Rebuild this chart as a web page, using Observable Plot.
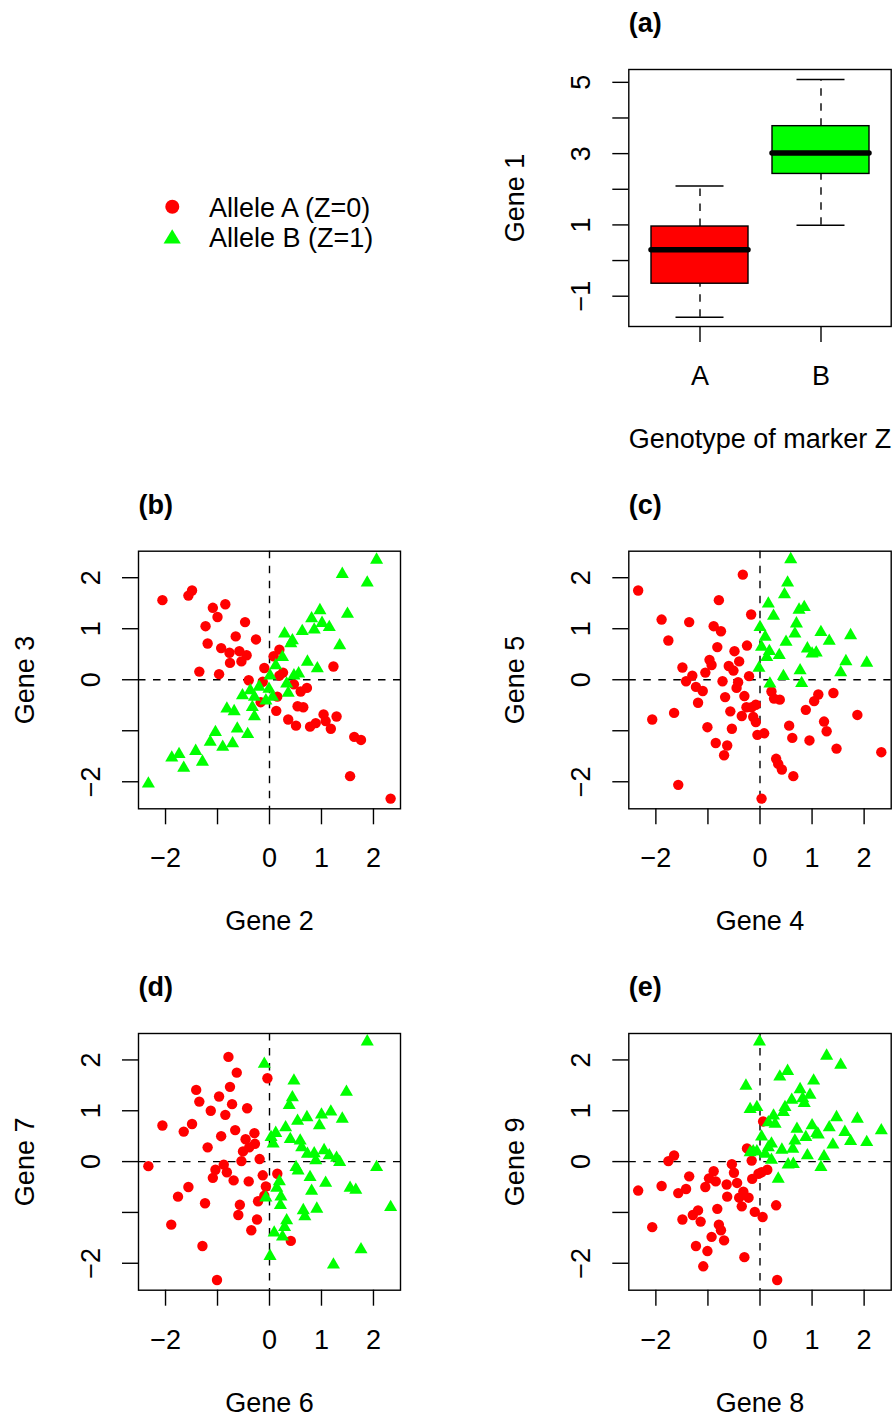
<!DOCTYPE html>
<html><head><meta charset="utf-8">
<script src="https://cdn.jsdelivr.net/npm/d3@7"></script>
<script src="https://cdn.jsdelivr.net/npm/@observablehq/plot@0.6"></script>
<style>
html,body{margin:0;padding:0;background:#fff;overflow:hidden;}
#root{position:relative;width:894px;height:1418px;font-family:"Liberation Sans",Arimo,Helvetica,Arial,sans-serif;}
.panel{position:absolute;}
</style></head><body><div id="root"></div>
<script>
// ---------- data ----------
const groups = ["A", "B"];
const boxLow = [-1.59, 0.99];
const boxQ1 = [-0.65, 2.43];
const boxMed = [0.30, 3.02];
const boxQ3 = [0.955, 3.77];
const boxHigh = [2.09, 5.08];
const boxFill = ["#ff0000", "#00ff00"];

const legendLabels = ["Allele A (Z=0)", "Allele B (Z=1)"];

const scatterTicks = [-2, -1, 0, 1, 2];
const gene1Ticks = [-1, 0, 1, 2, 3, 4, 5];

// panel (b): Gene 2 (x) vs Gene 3 (y)
const b_A = [[-2.06,1.56],[-1.56,1.65],[-1.49,1.75],[-1.09,1.41],[-0.85,1.48],[-1.0,1.23],[-1.23,1.05],[-0.47,1.13],[-0.65,0.85],[-0.26,0.79],[-1.19,0.71],[-0.93,0.62],[-0.77,0.53],[-0.58,0.56],[-0.44,0.48],[-0.54,0.36],[-0.76,0.33],[-1.35,0.16],[-0.97,0.11],[-0.40,-0.01],[-0.10,0.23],[0.19,0.59],[0.08,0.46],[0.26,0.14],[0.19,0.08],[-0.13,-0.04],[-0.17,-0.44],[0.15,-0.33],[0.13,-0.61],[0.47,-0.09],[0.60,-0.23],[0.72,-0.16],[0.54,-0.52],[0.65,-0.54],[0.36,-0.78],[0.51,-0.90],[0.78,-0.92],[0.89,-0.85],[1.04,-0.68],[1.08,-0.81],[1.18,-0.96],[1.29,-0.72],[1.23,0.26],[1.63,-1.12],[1.76,-1.18],[1.55,-1.89],[2.33,-2.33]];
const b_B = [[-2.33,-2.04],[-1.88,-1.53],[-1.74,-1.46],[-1.65,-1.73],[-1.42,-1.40],[-1.29,-1.61],[-1.14,-1.22],[-1.04,-1.03],[-0.90,-1.32],[-0.71,-1.25],[-0.62,-0.96],[-0.42,-1.07],[-0.82,-0.57],[-0.68,-0.62],[-0.29,-0.72],[-0.33,-0.54],[-0.52,-0.31],[-0.37,-0.21],[-0.20,-0.14],[-0.29,-0.34],[-0.07,-0.41],[-0.01,-0.18],[0.06,-0.34],[0.01,0.08],[0.12,0.28],[0.25,0.44],[0.33,-0.08],[0.36,-0.26],[0.47,0.08],[0.56,0.12],[0.29,0.90],[0.41,0.71],[0.44,0.77],[0.63,0.95],[0.73,0.35],[0.92,0.22],[0.86,0.98],[0.81,1.20],[0.97,1.36],[1.01,1.11],[1.15,1.03],[1.35,0.67],[1.50,1.29],[1.40,2.07],[1.88,1.90],[2.06,2.35]];

// panel (c): Gene 4 vs Gene 5
const c_A = [[-2.34,1.75],[-1.89,1.18],[-1.36,1.13],[-1.76,0.77],[-0.33,2.06],[-0.79,1.56],[-0.17,1.28],[-0.89,1.05],[-0.75,0.95],[-0.82,0.64],[-0.49,0.56],[-0.25,0.67],[-0.40,0.36],[-0.97,0.39],[-0.93,0.29],[-0.60,0.27],[-0.51,0.18],[-1.49,0.24],[-1.30,0.08],[-1.05,0.14],[-0.21,0.07],[-1.42,-0.03],[-0.72,-0.03],[-1.23,-0.14],[-1.10,-0.22],[-0.42,-0.05],[-0.45,-0.16],[-1.19,-0.45],[-0.67,-0.34],[-0.30,-0.32],[-0.26,-0.54],[-0.57,-0.62],[-0.35,-0.71],[-2.07,-0.78],[-1.65,-0.65],[-1.01,-0.93],[-0.54,-0.96],[-0.85,-1.24],[-0.63,-1.29],[-0.69,-1.48],[-1.57,-2.06],[0.22,-0.23],[0.27,-0.37],[0.38,-0.39],[-0.08,-0.49],[-0.16,-0.54],[-0.13,-0.73],[-0.08,-0.83],[-0.05,-1.08],[0.08,-1.05],[1.12,-0.29],[1.04,-0.42],[1.41,-0.26],[0.88,-0.59],[1.23,-0.82],[1.28,-1.01],[0.56,-0.90],[0.62,-1.14],[0.95,-1.19],[1.47,-1.35],[1.87,-0.69],[2.33,-1.42],[0.31,-1.55],[0.35,-1.65],[0.42,-1.76],[0.64,-1.89],[0.03,-2.33]];
const c_B = [[0.59,2.36],[0.53,1.90],[0.47,1.67],[0.16,1.49],[0.26,1.25],[0.75,1.37],[0.85,1.42],[0.70,1.10],[0.67,0.90],[0.0,1.03],[0.10,0.84],[0.50,0.74],[0.03,0.64],[0.18,0.56],[0.13,0.44],[0.37,0.48],[0.91,0.61],[1.0,0.51],[1.08,0.53],[1.17,0.93],[1.33,0.76],[1.74,0.87],[1.65,0.36],[2.05,0.33],[1.55,0.14],[0.77,0.18],[0.80,-0.07],[0.45,0.07],[-0.02,0.23],[0.19,-0.08]];

// panel (d): Gene 6 vs Gene 7
const d_A = [[-2.33,-0.09],[-2.06,0.71],[-1.65,0.59],[-1.49,0.74],[-1.41,1.41],[-1.35,1.18],[-1.13,1.0],[-0.97,1.28],[-0.79,2.06],[-0.76,1.47],[-0.63,1.75],[-0.72,1.13],[-0.85,0.92],[-0.43,1.05],[-0.66,0.62],[-0.93,0.50],[-1.19,0.28],[-0.46,0.44],[-0.29,0.56],[-0.28,0.35],[-0.39,0.28],[-0.51,0.20],[-0.54,0.01],[-0.19,0.05],[-0.88,-0.06],[-1.04,-0.16],[-0.82,-0.21],[-1.09,-0.32],[-0.69,-0.37],[-0.40,-0.39],[-1.56,-0.50],[-1.76,-0.69],[-1.24,-0.82],[-0.57,-0.85],[-0.60,-1.05],[-0.22,-0.78],[-0.24,-1.14],[-0.35,-1.35],[-1.89,-1.24],[-1.29,-1.66],[-1.01,-2.33],[-0.04,1.64],[-0.13,-0.27],[-0.07,-0.49],[-0.10,-0.67],[0.15,-0.24],[0.41,-1.56]];
const d_B = [[1.88,2.36],[1.48,1.37],[0.47,1.59],[0.44,1.26],[0.38,1.11],[0.54,0.80],[0.72,0.87],[1.0,0.92],[1.18,0.98],[1.40,0.84],[0.96,0.71],[0.31,0.67],[0.12,0.56],[0.03,0.48],[0.07,0.35],[0.40,0.44],[0.59,0.41],[0.62,0.28],[0.73,0.15],[0.86,0.16],[0.89,0.02],[1.05,0.22],[1.15,0.12],[1.29,0.07],[1.35,-0.01],[0.51,-0.11],[0.55,-0.18],[0.78,-0.31],[1.08,-0.42],[0.81,-0.58],[2.06,-0.11],[1.55,-0.52],[1.66,-0.56],[0.19,-0.39],[0.14,-0.52],[0.22,-0.69],[0.21,-0.86],[0.91,-0.93],[0.65,-0.96],[0.68,-1.08],[2.33,-0.90],[0.33,-1.16],[0.29,-1.29],[0.09,-1.40],[0.25,-1.48],[0.01,-1.86],[1.76,-1.73],[1.23,-2.03],[-0.10,1.92],[-0.07,-0.71]];

// panel (e): Gene 8 vs Gene 9
const e_A = [[-2.34,-0.57],[-2.07,-1.29],[-1.89,-0.48],[-1.76,0.01],[-1.65,0.12],[-1.57,-0.62],[-1.42,-0.54],[-1.36,-0.29],[-1.49,-1.14],[-1.29,-1.05],[-1.19,-0.96],[-1.14,-1.18],[-1.05,-0.50],[-0.98,-0.33],[-0.89,-0.19],[-0.85,-0.39],[-1.23,-1.66],[-1.01,-1.76],[-1.09,-2.06],[-0.93,-1.48],[-0.79,-1.24],[-0.75,-1.35],[-0.69,-1.55],[-0.82,-0.93],[-0.64,-0.45],[-0.63,-0.69],[-0.54,-0.05],[-0.50,-0.22],[-0.44,-0.42],[-0.32,-0.59],[-0.40,-0.71],[-0.22,-0.71],[-0.35,-0.88],[-0.15,-0.34],[-0.25,0.26],[-0.16,0.02],[-0.10,-0.99],[-0.30,-1.88],[-0.03,-0.24],[0.06,0.79],[0.03,-0.21],[0.14,-0.16],[0.05,-1.09],[0.31,-0.86],[0.33,-2.33]];
const e_B = [[-0.01,2.36],[1.28,2.08],[1.55,1.90],[0.53,1.78],[0.38,1.67],[1.03,1.59],[0.77,1.42],[0.96,1.31],[0.82,1.24],[0.61,1.21],[0.85,1.15],[0.48,1.07],[0.45,0.97],[-0.06,1.07],[0.26,0.90],[0.29,0.74],[0.16,0.77],[0.71,0.64],[1.0,0.71],[1.09,0.56],[1.12,0.53],[0.88,0.48],[1.33,0.67],[1.47,0.87],[1.87,0.84],[1.63,0.58],[1.74,0.40],[2.05,0.38],[2.33,0.61],[1.40,0.33],[0.67,0.41],[0.03,0.49],[0.22,0.35],[0.16,0.28],[0.42,0.23],[0.63,0.25],[-0.06,0.20],[-0.19,0.18],[0.10,0.15],[0.22,0.03],[0.91,0.12],[1.23,0.10],[1.17,-0.11],[0.54,-0.06],[0.64,-0.05],[0.35,-0.34],[-0.27,1.49],[-0.19,1.03],[-0.13,0.20]];

// ---------- styling / layout ----------
const RED = "#ff0000", GREEN = "#00ff00";
const FONT = '"Liberation Sans", Arimo, Helvetica, Arial, sans-serif';
const FS = 27;
const LW = 1.4;
const DASH = "7.5,7.5";
const W = 447, H = 454;
const COLS = [{left: 0, ml: 138, mr: 47}, {left: 447, ml: 181.3, mr: 3.3}];
const ROWS = [{top: 0, mt: 69, mb: 128}, {top: 482, mt: 68.7, mb: 127.7}, {top: 964, mt: 69, mb: 128.3}];
const fmt = d => d < 0 ? "\u2212" + Math.abs(d) : String(d);
const root = document.getElementById("root");

function place(node, left, top) {
  const div = document.createElement("div");
  div.className = "panel";
  div.style.left = left + "px";
  div.style.top = top + "px";
  div.appendChild(node);
  root.appendChild(div);
}

function decorations(tag, xl, yl) {
  return [
    Plot.text([xl], {frameAnchor: "bottom", dy: 113, lineAnchor: "middle", textAnchor: "middle", fontSize: FS}),
    Plot.text([yl], {frameAnchor: "left", dx: -113, rotate: -90, lineAnchor: "middle", textAnchor: "middle", fontSize: FS}),
    Plot.text([tag], {frameAnchor: "top-left", dy: -46, lineAnchor: "middle", textAnchor: "start", fontWeight: "bold", fontSize: FS})
  ];
}

function scatter(tag, A, B, xl, yl, col, row) {
  const obj = ([x, y]) => ({x, y});
  const svg = Plot.plot({
    width: W, height: H,
    marginLeft: col.ml, marginRight: col.mr, marginTop: row.mt, marginBottom: row.mb,
    style: {fontFamily: FONT, fontSize: FS + "px", color: "black", background: "white"},
    x: {domain: [-2.52, 2.52]},
    y: {domain: [-2.53, 2.52]},
    marks: [
      Plot.ruleX([0], {stroke: "black", strokeWidth: LW, strokeDasharray: DASH}),
      Plot.ruleY([0], {stroke: "black", strokeWidth: LW, strokeDasharray: DASH}),
      Plot.dot(A.map(obj), {x: "x", y: "y", r: 5.2, fill: RED, symbol: "circle"}),
      Plot.dot(B.map(obj), {x: "x", y: "y", r: 4.85, fill: GREEN, symbol: "triangle"}),
      Plot.frame({stroke: "black", strokeWidth: LW}),
      Plot.axisX({ticks: scatterTicks, tickFormat: d => d === -1 ? "" : fmt(d), tickSize: 16, tickPadding: 23.5, strokeWidth: LW, label: null, fontSize: FS}),
      Plot.axisY({ticks: scatterTicks, tickFormat: d => d === -1 ? "" : fmt(d), tickSize: 16, tickPadding: 23, tickRotate: -90, strokeWidth: LW, label: null, fontSize: FS}),
      ...decorations(tag, xl, yl)
    ]
  });
  place(svg, col.left, row.top);
}

// ---------- panel (a): boxplot ----------
const box = groups.map((g, i) => ({g, lo: boxLow[i], q1: boxQ1[i], med: boxMed[i], q3: boxQ3[i], hi: boxHigh[i], fill: boxFill[i]}));
const boxSvg = Plot.plot({
  width: W, height: H,
  marginLeft: COLS[1].ml, marginRight: COLS[1].mr, marginTop: ROWS[0].mt, marginBottom: ROWS[0].mb,
  style: {fontFamily: FONT, fontSize: FS + "px", color: "black", background: "white"},
  x: {type: "band", domain: groups, paddingInner: 0.2, paddingOuter: 0.18},
  y: {domain: [-1.85, 5.36]},
  color: {type: "identity"},
  marks: [
    Plot.ruleX(box, {x: "g", y1: "lo", y2: "q1", stroke: "black", strokeWidth: LW, strokeDasharray: DASH}),
    Plot.ruleX(box, {x: "g", y1: "q3", y2: "hi", stroke: "black", strokeWidth: LW, strokeDasharray: DASH}),
    Plot.tickY(box, {x: "g", y: "lo", insetLeft: 24.5, insetRight: 24.5, stroke: "black", strokeWidth: LW}),
    Plot.tickY(box, {x: "g", y: "hi", insetLeft: 24.5, insetRight: 24.5, stroke: "black", strokeWidth: LW}),
    Plot.barY(box, {x: "g", y1: "q1", y2: "q3", fill: "fill", stroke: "black", strokeWidth: LW}),
    Plot.tickY(box, {x: "g", y: "med", stroke: "black", strokeWidth: 5.5, strokeLinecap: "round"}),
    Plot.frame({stroke: "black", strokeWidth: LW}),
    Plot.axisX({tickSize: 16, tickPadding: 23.5, strokeWidth: LW, label: null, fontSize: FS}),
    Plot.axisY({ticks: gene1Ticks, tickFormat: d => Math.abs(d) % 2 === 1 ? fmt(d) : "", tickSize: 16, tickPadding: 23, tickRotate: -90, strokeWidth: LW, label: null, fontSize: FS}),
    ...decorations("(a)", "Genotype of marker Z", "Gene 1")
  ]
});
place(boxSvg, COLS[1].left, ROWS[0].top);

// ---------- legend ----------
const ns = "http://www.w3.org/2000/svg";
const leg = document.createElementNS(ns, "svg");
leg.setAttribute("width", W); leg.setAttribute("height", 300);
leg.style.fontFamily = FONT; leg.style.fontSize = FS + "px";
const circ = document.createElementNS(ns, "circle");
circ.setAttribute("cx", 172.3); circ.setAttribute("cy", 206.7); circ.setAttribute("r", 7); circ.setAttribute("fill", RED);
leg.appendChild(circ);
const tri = document.createElementNS(ns, "path");
tri.setAttribute("d", "M172.2,229.2L180.8,243.6L163.6,243.6Z"); tri.setAttribute("fill", GREEN);
leg.appendChild(tri);
legendLabels.forEach((t, i) => {
  const tx = document.createElementNS(ns, "text");
  tx.setAttribute("x", 209); tx.setAttribute("y", 216.7 + 30 * i);
  tx.textContent = t;
  leg.appendChild(tx);
});
place(leg, 0, 0);

// ---------- scatter panels ----------
scatter("(b)", b_A, b_B, "Gene 2", "Gene 3", COLS[0], ROWS[1]);
scatter("(c)", c_A, c_B, "Gene 4", "Gene 5", COLS[1], ROWS[1]);
scatter("(d)", d_A, d_B, "Gene 6", "Gene 7", COLS[0], ROWS[2]);
scatter("(e)", e_A, e_B, "Gene 8", "Gene 9", COLS[1], ROWS[2]);
</script></body></html>
